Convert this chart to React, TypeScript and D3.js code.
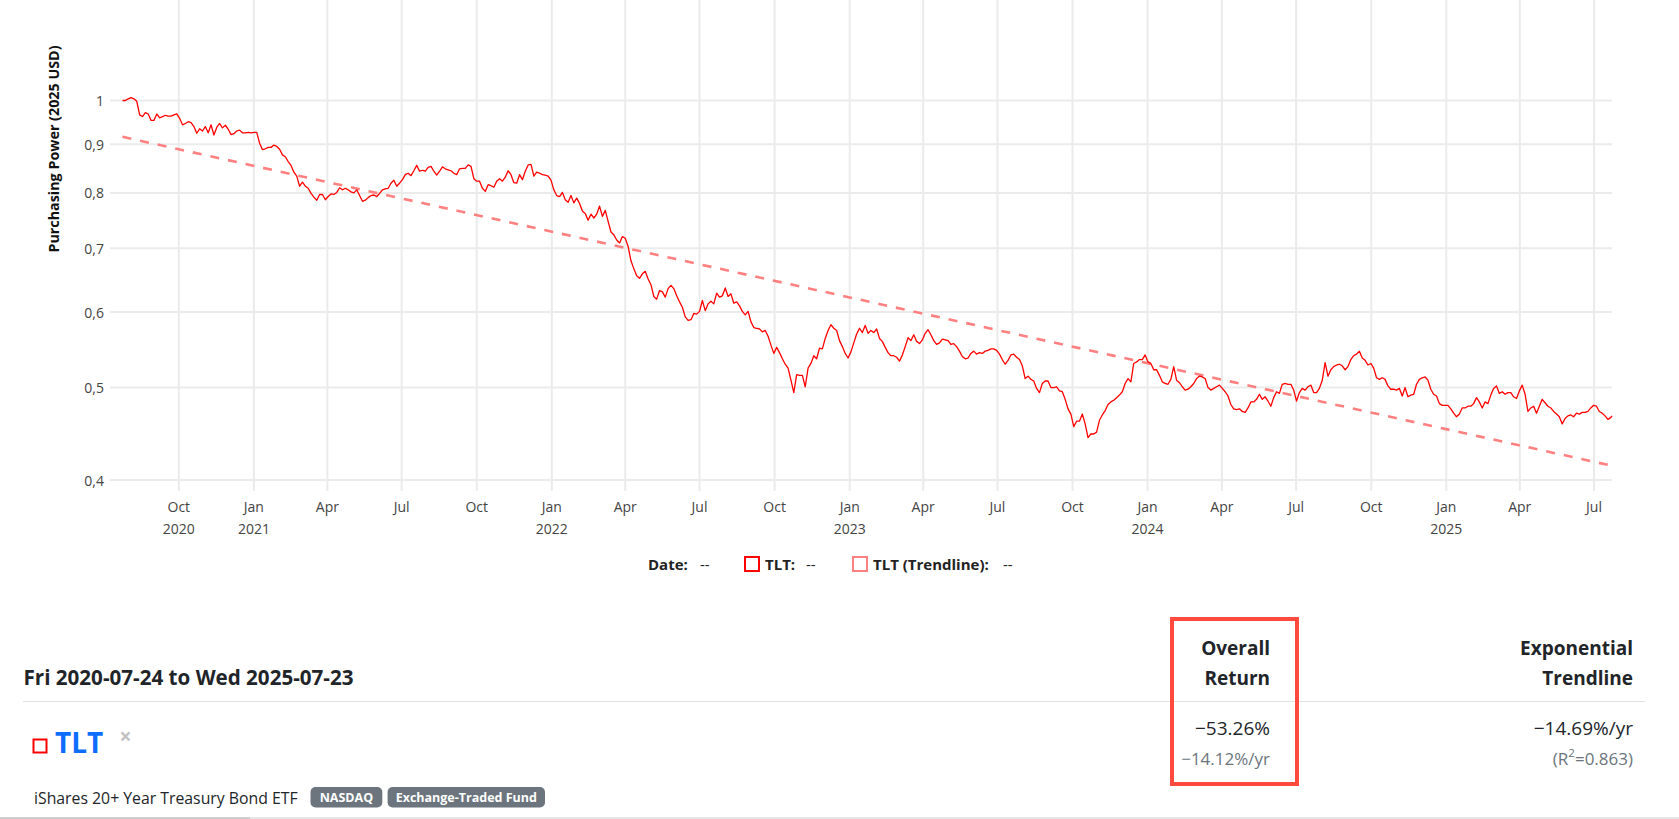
import * as d3 from 'd3';

const WIDTH = 1679;
const HEIGHT = 819;

const START_DATE = new Date(2020, 6, 24);
const END_DATE = new Date(2025, 6, 23);
const SAMPLE_HOURS = 84; // values below are read every 3.5 days from START_DATE

// TLT purchasing power (2025 USD)
const tltValues = [
    1.0, 1.0, 1.004, 1.007, 1.004, 0.998, 0.966, 0.962, 0.971, 0.968, 0.953, 0.953, 0.968, 0.959, 0.962, 0.965, 0.963, 0.963, 0.966, 0.968,
    0.958, 0.943, 0.946, 0.95, 0.948, 0.939, 0.924, 0.934, 0.929, 0.939, 0.925, 0.943, 0.92, 0.937, 0.946, 0.936, 0.942, 0.933, 0.921, 0.923,
    0.929, 0.931, 0.925, 0.925, 0.926, 0.925, 0.926, 0.926, 0.902, 0.888, 0.89, 0.893, 0.893, 0.898, 0.895, 0.889, 0.877, 0.873, 0.863, 0.855,
    0.841, 0.833, 0.813, 0.821, 0.813, 0.809, 0.799, 0.792, 0.786, 0.797, 0.797, 0.787, 0.793, 0.798, 0.797, 0.801, 0.81, 0.806, 0.809, 0.806,
    0.802, 0.8, 0.806, 0.795, 0.784, 0.786, 0.791, 0.795, 0.796, 0.793, 0.799, 0.806, 0.808, 0.809, 0.819, 0.825, 0.813, 0.819, 0.826, 0.836,
    0.839, 0.834, 0.844, 0.855, 0.843, 0.845, 0.843, 0.851, 0.853, 0.843, 0.835, 0.843, 0.852, 0.848, 0.846, 0.844, 0.839, 0.836, 0.848, 0.849,
    0.849, 0.856, 0.853, 0.828, 0.823, 0.823, 0.809, 0.803, 0.816, 0.814, 0.811, 0.823, 0.828, 0.823, 0.831, 0.844, 0.836, 0.82, 0.819, 0.836,
    0.826, 0.843, 0.856, 0.857, 0.833, 0.841, 0.839, 0.836, 0.835, 0.833, 0.825, 0.806, 0.795, 0.793, 0.801, 0.787, 0.782, 0.795, 0.781, 0.79,
    0.78, 0.766, 0.761, 0.749, 0.76, 0.753, 0.76, 0.775, 0.756, 0.767, 0.747, 0.728, 0.723, 0.714, 0.709, 0.72, 0.717, 0.703, 0.679, 0.666,
    0.655, 0.651, 0.658, 0.662, 0.65, 0.641, 0.623, 0.619, 0.632, 0.63, 0.622, 0.635, 0.64, 0.635, 0.624, 0.615, 0.607, 0.593, 0.588, 0.589,
    0.598, 0.597, 0.601, 0.617, 0.602, 0.612, 0.616, 0.612, 0.628, 0.622, 0.624, 0.636, 0.623, 0.627, 0.613, 0.615, 0.609, 0.601, 0.596, 0.601,
    0.586, 0.578, 0.577, 0.576, 0.572, 0.574, 0.566, 0.554, 0.543, 0.551, 0.544, 0.536, 0.529, 0.524, 0.509, 0.494, 0.516, 0.515, 0.515, 0.501,
    0.524, 0.53, 0.54, 0.536, 0.55, 0.549, 0.563, 0.574, 0.582, 0.577, 0.574, 0.56, 0.552, 0.543, 0.537, 0.545, 0.557, 0.569, 0.577, 0.571,
    0.581, 0.57, 0.574, 0.571, 0.576, 0.563, 0.559, 0.551, 0.544, 0.54, 0.54, 0.538, 0.533, 0.541, 0.552, 0.564, 0.56, 0.568, 0.559, 0.556,
    0.561, 0.57, 0.575, 0.568, 0.56, 0.555, 0.557, 0.562, 0.561, 0.56, 0.555, 0.556, 0.552, 0.546, 0.539, 0.536, 0.537, 0.543, 0.546, 0.542,
    0.544, 0.543, 0.546, 0.547, 0.549, 0.549, 0.547, 0.542, 0.535, 0.529, 0.534, 0.541, 0.542, 0.538, 0.535, 0.527, 0.511, 0.514, 0.51, 0.508,
    0.499, 0.494, 0.505, 0.508, 0.508, 0.5, 0.5, 0.501, 0.496, 0.495, 0.486, 0.475, 0.469, 0.455, 0.461, 0.461, 0.469, 0.458, 0.443, 0.447,
    0.447, 0.449, 0.462, 0.468, 0.473, 0.48, 0.483, 0.485, 0.488, 0.491, 0.495, 0.505, 0.511, 0.507, 0.53, 0.532, 0.535, 0.535, 0.541, 0.532,
    0.53, 0.522, 0.522, 0.515, 0.507, 0.505, 0.504, 0.51, 0.526, 0.509, 0.506, 0.501, 0.497, 0.498, 0.501, 0.505, 0.511, 0.514, 0.513, 0.511,
    0.5, 0.497, 0.499, 0.501, 0.503, 0.499, 0.495, 0.49, 0.48, 0.475, 0.474, 0.475, 0.472, 0.471, 0.476, 0.483, 0.483, 0.486, 0.492, 0.486,
    0.489, 0.484, 0.478, 0.488, 0.495, 0.493, 0.504, 0.505, 0.504, 0.504, 0.497, 0.484, 0.494, 0.499, 0.497, 0.501, 0.503, 0.494, 0.494, 0.499,
    0.509, 0.531, 0.514, 0.522, 0.526, 0.528, 0.529, 0.527, 0.522, 0.526, 0.535, 0.54, 0.542, 0.546, 0.537, 0.534, 0.528, 0.53, 0.524, 0.512,
    0.51, 0.512, 0.51, 0.502, 0.498, 0.498, 0.497, 0.499, 0.49, 0.5, 0.489, 0.491, 0.492, 0.504, 0.51, 0.512, 0.513, 0.509, 0.498, 0.492,
    0.49, 0.481, 0.479, 0.479, 0.479, 0.475, 0.47, 0.466, 0.469, 0.476, 0.476, 0.478, 0.478, 0.481, 0.488, 0.483, 0.476, 0.483, 0.481, 0.491,
    0.499, 0.502, 0.493, 0.495, 0.492, 0.494, 0.494, 0.489, 0.487, 0.496, 0.503, 0.492, 0.472, 0.476, 0.478, 0.47, 0.478, 0.486, 0.482, 0.478,
    0.476, 0.472, 0.469, 0.466, 0.458, 0.464, 0.467, 0.468, 0.466, 0.47, 0.469, 0.471, 0.471, 0.472, 0.476, 0.479, 0.478, 0.472, 0.47, 0.467,
    0.463, 0.465,
];
const tltLastValue = 0.467;

// exponential trendline at START_DATE and END_DATE
const trendValues = [0.916, 0.414];

const yTicks = [0.4, 0.5, 0.6, 0.7, 0.8, 0.9, 1];

const periodLabel = 'Fri 2020-07-24 to Wed 2025-07-23';
const overallHeader = ['Overall', 'Return'];
const trendHeader = ['Exponential', 'Trendline'];
const tickerName = 'TLT';
const fundName = 'iShares 20+ Year Treasury Bond ETF';
const badges = ['NASDAQ', 'Exchange-Traded Fund'];
const overallReturn = '\u221253.26%';
const overallAnnual = '\u221214.12%/yr';
const trendAnnual = '\u221214.69%/yr';
const trendR2 = '0.863';

const FONT = "'Segoe UI', 'Open Sans', sans-serif";
const LINE_COLOR = '#ff0000';
const TREND_COLOR = '#ff8080';
const GRID_COLOR = '#ebebeb';

const PLOT = { left: 110, right: 1612, top: 0, bottom: 491 };

function PowerChart() {
    const xScale = d3.scaleTime().domain([START_DATE, END_DATE]).range([122.5, 1612]);
    const yScale = d3.scaleLog().domain([0.4, 1]).range([480, 100.5]);

    const series: [Date, number][] = tltValues.map((v, i) => [
        d3.timeHour.offset(START_DATE, SAMPLE_HOURS * i),
        v,
    ]);
    series.push([END_DATE, tltLastValue]);

    const trend: [Date, number][] = [
        [START_DATE, trendValues[0]],
        [END_DATE, trendValues[1]],
    ];

    const lineBuilder = d3
        .line<[Date, number]>()
        .x((d) => xScale(d[0]))
        .y((d) => yScale(d[1]));

    const xTicks = xScale.ticks(d3.timeMonth.every(3)!);
    const monthFmt = d3.timeFormat('%b');
    const yearFmt = d3.timeFormat('%Y');
    const yFmt = (v: number) => String(v).replace('.', ',');

    return (
        <g fontFamily={FONT}>
            {/* grid */}
            {xTicks.map((t) => (
                <line
                    key={'vx' + t.getTime()}
                    x1={xScale(t)}
                    x2={xScale(t)}
                    y1={PLOT.top}
                    y2={PLOT.bottom}
                    stroke={GRID_COLOR}
                    strokeWidth={2}
                />
            ))}
            {yTicks.map((v) => (
                <line
                    key={'hy' + v}
                    x1={PLOT.left}
                    x2={PLOT.right}
                    y1={yScale(v)}
                    y2={yScale(v)}
                    stroke={GRID_COLOR}
                    strokeWidth={2}
                />
            ))}

            {/* y axis */}
            {yTicks.map((v) => (
                <text
                    key={'yt' + v}
                    x={104}
                    y={yScale(v)}
                    textAnchor="end"
                    dominantBaseline="central"
                    fontSize={14}
                    fill="#444"
                >
                    {yFmt(v)}
                </text>
            ))}
            <text
                transform="translate(53,149) rotate(-90)"
                textAnchor="middle"
                dominantBaseline="central"
                fontSize={14.3}
                fontWeight="bold"
                fill="#111"
            >
                Purchasing Power (2025 USD)
            </text>

            {/* x axis */}
            {xTicks.map((t, i) => (
                <g key={'xt' + t.getTime()}>
                    <text
                        x={xScale(t)}
                        y={506}
                        textAnchor="middle"
                        dominantBaseline="central"
                        fontSize={14}
                        fill="#444"
                    >
                        {monthFmt(t)}
                    </text>
                    {(i === 0 || t.getMonth() === 0) && (
                        <text
                            x={xScale(t)}
                            y={528}
                            textAnchor="middle"
                            dominantBaseline="central"
                            fontSize={14}
                            fill="#444"
                        >
                            {yearFmt(t)}
                        </text>
                    )}
                </g>
            ))}

            {/* series */}
            <path
                d={lineBuilder(trend) || ''}
                fill="none"
                stroke={TREND_COLOR}
                strokeWidth={2.6}
                strokeDasharray="9,9"
            />
            <path
                d={lineBuilder(series) || ''}
                fill="none"
                stroke={LINE_COLOR}
                strokeWidth={1.3}
                strokeLinejoin="round"
            />

            {/* legend */}
            <g fontSize={15} fill="#222">
                <text x={648} y={564} dominantBaseline="central" fontWeight="bold">
                    Date:
                </text>
                <text x={700} y={564} dominantBaseline="central">
                    --
                </text>
                <rect x={745} y={557} width={14} height={14} fill="#fff" stroke={LINE_COLOR} strokeWidth={2} />
                <text x={765} y={564} dominantBaseline="central" fontWeight="bold">
                    TLT:
                </text>
                <text x={806} y={564} dominantBaseline="central">
                    --
                </text>
                <rect x={853} y={557} width={14} height={14} fill="#fff" stroke={TREND_COLOR} strokeWidth={2} />
                <text x={873} y={564} dominantBaseline="central" fontWeight="bold">
                    TLT (Trendline):
                </text>
                <text x={1003} y={564} dominantBaseline="central">
                    --
                </text>
            </g>
        </g>
    );
}

function SummaryTable() {
    const text = '#212529';
    const muted = '#6c757d';
    const badgeX = [310.5, 387.6];
    const badgeW = [71.8, 157.4];
    return (
        <g fontFamily={FONT}>
            <text x={23.5} y={677} dominantBaseline="central" fontSize={20.6} fontWeight="bold" fill={text}>
                {periodLabel}
            </text>
            {overallHeader.map((s, i) => (
                <text
                    key={'oh' + s}
                    x={1270}
                    y={648 + i * 30}
                    textAnchor="end"
                    dominantBaseline="central"
                    fontSize={19}
                    fontWeight="bold"
                    fill={text}
                >
                    {s}
                </text>
            ))}
            {trendHeader.map((s, i) => (
                <text
                    key={'th' + s}
                    x={1633}
                    y={648 + i * 30}
                    textAnchor="end"
                    dominantBaseline="central"
                    fontSize={19}
                    fontWeight="bold"
                    fill={text}
                >
                    {s}
                </text>
            ))}
            <line x1={23} x2={1645} y1={701.5} y2={701.5} stroke="#dee2e6" strokeWidth={1} />

            <rect x={33.5} y={739.5} width={13} height={13} fill="none" stroke={LINE_COLOR} strokeWidth={2} />
            <text x={55} y={742} dominantBaseline="central" fontSize={28} fontWeight="bold" fill="#0d6efd">
                {tickerName}
            </text>
            <text
                x={125.5}
                y={735.5}
                textAnchor="middle"
                dominantBaseline="central"
                fontSize={21}
                fontWeight="bold"
                fill="#c2c2c2"
            >
                ×
            </text>

            <text x={34} y={798} dominantBaseline="central" fontSize={15.8} fill={text}>
                {fundName}
            </text>
            {badges.map((b, i) => (
                <g key={b}>
                    <rect x={badgeX[i]} y={787} width={badgeW[i]} height={20.5} rx={5} fill={muted} />
                    <text
                        x={badgeX[i] + badgeW[i] / 2}
                        y={797.5}
                        textAnchor="middle"
                        dominantBaseline="central"
                        fontSize={12.5}
                        fontWeight="bold"
                        fill="#fff"
                    >
                        {b}
                    </text>
                </g>
            ))}

            <text x={1270} y={728} textAnchor="end" dominantBaseline="central" fontSize={19} fill={text}>
                {overallReturn}
            </text>
            <text x={1270} y={758} textAnchor="end" dominantBaseline="central" fontSize={17} fill={muted}>
                {overallAnnual}
            </text>
            <text x={1633} y={728} textAnchor="end" dominantBaseline="central" fontSize={19} fill={text}>
                {trendAnnual}
            </text>
            <text x={1633} y={758} textAnchor="end" dominantBaseline="central" fontSize={17} fill={muted}>
                <tspan>(R</tspan>
                <tspan dy={-6} fontSize={11.5}>
                    2
                </tspan>
                <tspan dy={6}>={trendR2})</tspan>
            </text>

            <rect x={1172} y={619} width={125} height={165} fill="none" stroke="#ff4a3d" strokeWidth={4} />

            <rect x={0} y={817} width={WIDTH} height={2} fill="#e6e6e6" />
            <rect x={0} y={817} width={250} height={2} fill="#cfcfcf" />
        </g>
    );
}

export default function App() {
    return (
        <div>
            <style>{'body{margin:0;overflow:hidden;background:#fff}'}</style>
            <svg width={WIDTH} height={HEIGHT} style={{ display: 'block' }}>
                <rect width={WIDTH} height={HEIGHT} fill="#fff" />
                <PowerChart />
                <SummaryTable />
            </svg>
        </div>
    );
}
